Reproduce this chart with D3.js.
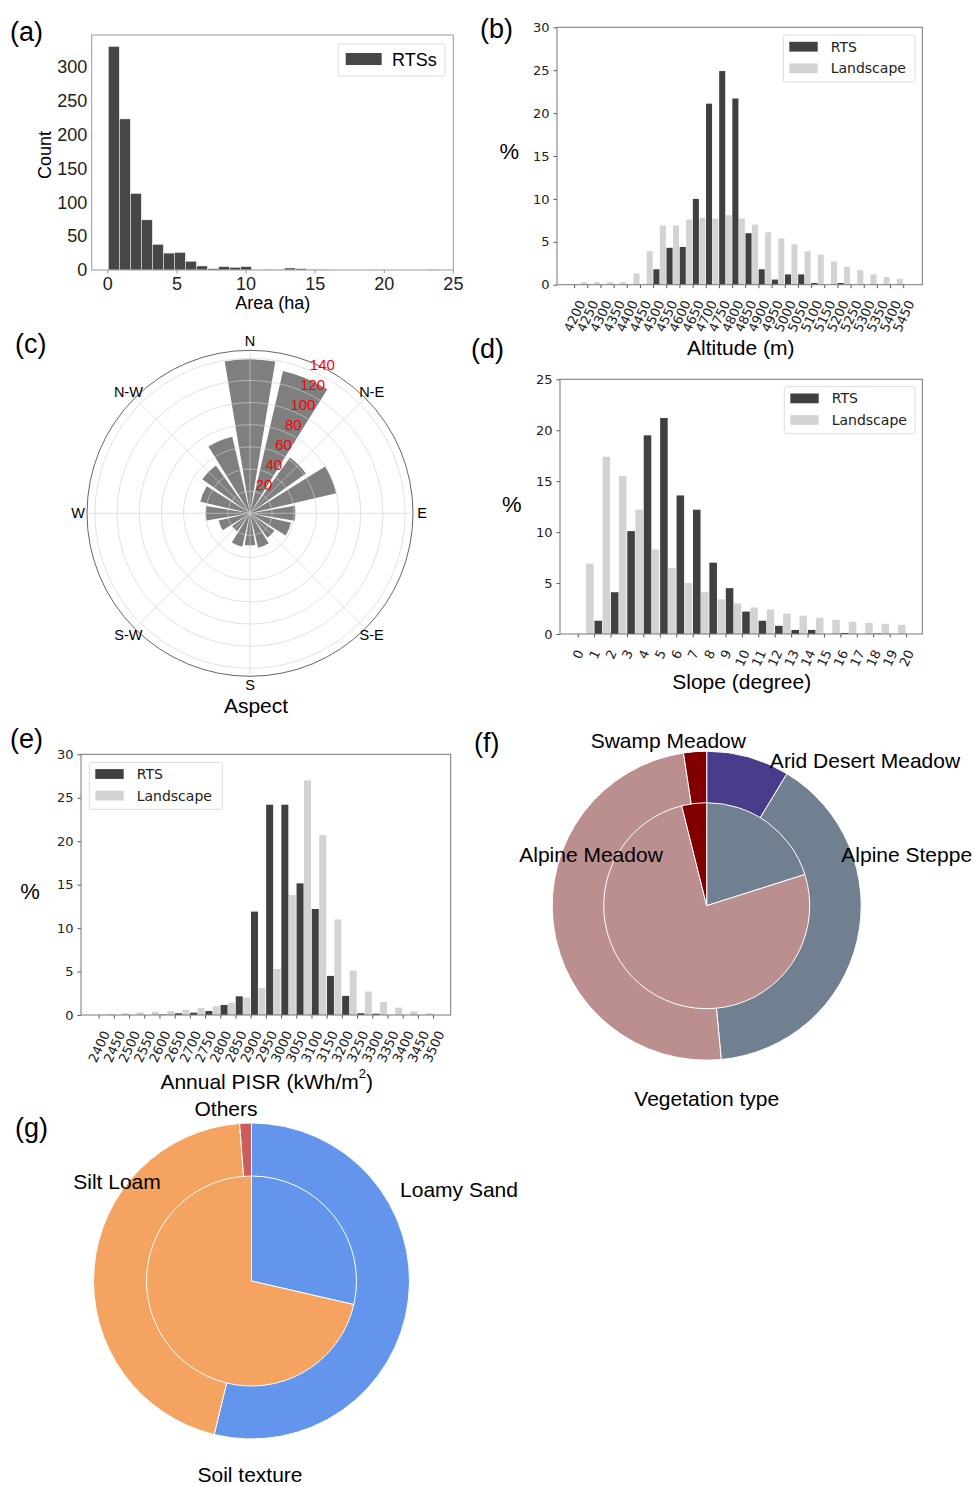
<!DOCTYPE html>
<html>
<head>
<meta charset="utf-8">
<title>RTS characteristics</title>
<script src="https://d3js.org/d3.v7.min.js"></script>
<style>
  body { margin:0; background:#fff; }
  svg { display:block; font-family:"Liberation Sans", Arial, sans-serif; }
</style>
</head>
<body>
<script>

// ---- data ----

// (a) area histogram, 30 bins
var areaBinLo = 0.07, areaBinStep = 0.797;
var areaCounts = [330, 223, 113, 74, 38, 25, 26, 13, 6, 2, 5, 4, 5, 0, 1, 1, 3, 2, 1, 1, 0, 0, 0, 0, 0, 0, 0, 0, 0, 1];

// (b) altitude
var altLabels = d3.range(4200, 5451, 50);
var altLand = [0, 0.3, 0.3, 0.3, 0.3, 1.3, 3.9, 6.9, 6.9, 7.6, 7.8, 7.7, 8.1, 7.7, 7.0, 6.1, 5.4, 4.7, 3.9, 3.5, 2.7, 2.1, 1.7, 1.2, 0.9, 0.7];
var altRTS  = [0, 0, 0, 0, 0, 0, 1.8, 4.3, 4.4, 10.0, 21.1, 24.9, 21.7, 6.0, 1.8, 0.6, 1.2, 1.2, 0.2, 0, 0.2, 0, 0, 0, 0, 0];

// (c) aspect, 16 sectors clockwise from N
var aspectCounts = [139, 132, 62, 80, 41, 38, 27, 32, 29, 31, 20, 29, 40, 46, 53, 71];
var aspectRings = [20, 40, 60, 80, 100, 120, 140];
var compassLabels = ["N", "N-E", "E", "S-E", "S", "S-W", "W", "N-W"];

// (d) slope
var slopeLabels = d3.range(0, 21);
var slopeLand = [0, 6.9, 17.4, 15.5, 12.2, 8.3, 6.5, 5.0, 4.1, 3.4, 3.0, 2.6, 2.4, 2.0, 1.8, 1.6, 1.4, 1.2, 1.1, 1.0, 0.9];
var slopeRTS  = [0, 1.3, 4.1, 10.1, 19.5, 21.2, 13.6, 12.2, 7.0, 4.5, 2.2, 1.3, 0.8, 0.4, 0.4, 0, 0.1, 0, 0.05, 0, 0];

// (e) annual PISR
var pisrLabels = d3.range(2400, 3501, 50);
var pisrLand = [0, 0.1, 0.2, 0.3, 0.35, 0.45, 0.6, 0.8, 1.0, 1.4, 2.0, 3.1, 5.3, 13.8, 27.0, 20.7, 11.0, 5.1, 2.7, 1.5, 0.85, 0.42, 0.2];
var pisrRTS  = [0, 0, 0, 0, 0.05, 0.2, 0.27, 0.46, 1.15, 2.15, 11.9, 24.2, 24.2, 15.15, 12.2, 4.5, 2.2, 0.2, 0.15, 0, 0, 0, 0];

// (f) vegetation type (%), outer ring and inner pie
var vegNames  = ["Arid Desert Meadow", "Alpine Steppe", "Alpine Meadow", "Swamp Meadow"];
var vegOuter  = [8.7, 39.8, 49.1, 2.4];
var vegInner  = [0, 20.1, 76.0, 3.9];
var vegColors = ["#483d8b", "#708090", "#bc8f8f", "#800000"];

// (g) soil texture (%)
var soilNames  = ["Loamy Sand", "Silt Loam", "Others"];
var soilOuter  = [53.8, 45.0, 1.2];
var soilInner  = [28.6, 71.4, 0];
var soilColors = ["#6495ed", "#f4a460", "#cd5c5c"];

// ---- drawing ----
var DARK = "#404040", LIGHT = "#d3d3d3", MPL = "DejaVu Sans, sans-serif";
var ROT = 65;  // x tick label rotation

var svg = d3.select("body").append("svg")
    .attr("width", 975)
    .attr("height", 1486);

function panelLetter(txt, x, y) {
  svg.append("text").attr("x", x).attr("y", y)
      .attr("dominant-baseline", "central")
      .style("font-size", "27px").text(txt);
}

function styleAxis(ax, font, fs, color) {
  ax.select(".domain").remove();
  ax.attr("font-family", font).attr("font-size", fs);
  ax.selectAll(".tick line").attr("stroke", color);
  ax.selectAll(".tick text").attr("fill", "#222");
}

// (a) histogram
(function() {
  var box = {left: 91.7, right: 453.3, top: 35, bottom: 270};
  var x = d3.scaleLinear().domain([-1.13, 25.03]).range([box.left, box.right]);
  var y = d3.scaleLinear().domain([0, 346.8]).range([box.bottom, box.top]);
  var g = svg.append("g");

  g.selectAll("rect.bar").data(areaCounts).join("rect")
      .attr("class", "bar")
      .attr("x", function(d, i) { return x(areaBinLo + i * areaBinStep); })
      .attr("width", x(areaBinStep) - x(0))
      .attr("y", function(d) { return y(d); })
      .attr("height", function(d) { return y(0) - y(d); })
      .attr("fill", "#474747")
      .attr("stroke", "#fff").attr("stroke-width", 0.5);

  var ax = g.append("g").attr("transform", "translate(0," + box.bottom + ")")
      .call(d3.axisBottom(x).tickValues([0, 5, 10, 15, 20, 25]).tickSize(3.5).tickPadding(3.5));
  styleAxis(ax, "Liberation Sans, Arial, sans-serif", 18, "#999");
  var ay = g.append("g").attr("transform", "translate(" + box.left + ",0)")
      .call(d3.axisLeft(y).tickValues([0, 50, 100, 150, 200, 250, 300]).tickSize(0).tickPadding(4.5));
  styleAxis(ay, "Liberation Sans, Arial, sans-serif", 18, "#999");

  g.append("rect").attr("x", box.left).attr("y", box.top)
      .attr("width", box.right - box.left).attr("height", box.bottom - box.top)
      .attr("fill", "none").attr("stroke", "#999");

  // legend
  g.append("rect").attr("x", 338).attr("y", 44).attr("width", 107).attr("height", 32).attr("rx", 2)
      .attr("fill", "#fff").attr("stroke", "#ddd");
  g.append("rect").attr("x", 345.7).attr("y", 53).attr("width", 36).attr("height", 12).attr("fill", "#474747");
  g.append("text").attr("x", 392).attr("y", 60).attr("dominant-baseline", "central")
      .style("font-size", "18px").text("RTSs");

  g.append("text").attr("x", 272.7).attr("y", 303).attr("text-anchor", "middle")
      .attr("dominant-baseline", "central").style("font-size", "18px").text("Area (ha)");
  g.append("text").attr("transform", "translate(45,155) rotate(-90)").attr("text-anchor", "middle")
      .attr("dominant-baseline", "central").style("font-size", "18px").text("Count");
})();

// grouped bar panels (b), (d), (e)
function barPanel(p) {
  var g = svg.append("g");
  var x = d3.scaleLinear().domain(p.xDomain).range([p.left, p.right]);
  var y = d3.scaleLinear().domain([0, p.yMax]).range([p.bottom, p.top]);

  g.selectAll("rect.land").data(p.land).join("rect")
      .attr("class", "land")
      .attr("x", function(d, i) { return x(i - 0.49); })
      .attr("width", x(0.46) - x(0))
      .attr("y", function(d) { return y(d); })
      .attr("height", function(d) { return y(0) - y(d); })
      .attr("fill", LIGHT);
  g.selectAll("rect.rts").data(p.rts).join("rect")
      .attr("class", "rts")
      .attr("x", function(d, i) { return x(i + 0.02); })
      .attr("width", x(0.46) - x(0))
      .attr("y", function(d) { return y(d); })
      .attr("height", function(d) { return y(0) - y(d); })
      .attr("fill", DARK);

  var ax = g.append("g").attr("transform", "translate(0," + p.bottom + ")")
      .call(d3.axisBottom(x).tickValues(d3.range(p.labels.length))
        .tickFormat(function(i) { return p.labels[i]; }).tickSize(3.5));
  styleAxis(ax, MPL, 13, "#555");
  ax.selectAll(".tick text").each(function() {
    var len = this.getComputedTextLength();
    var a = ROT * Math.PI / 180;
    var h = len * Math.sin(a) + 0.73 * 13 * Math.cos(a);
    d3.select(this).attr("y", 0).attr("dy", null)
        .attr("text-anchor", "middle").attr("dominant-baseline", "central")
        .attr("transform", "translate(0," + (3.5 + 11 + h / 2) + ") rotate(" + (-ROT) + ")");
  });

  var ay = g.append("g").attr("transform", "translate(" + p.left + ",0)")
      .call(d3.axisLeft(y).tickValues(d3.range(0, p.yMax + 1, 5)).tickSize(3.5).tickPadding(4));
  styleAxis(ay, MPL, 13, "#555");

  g.append("rect").attr("x", p.left).attr("y", p.top)
      .attr("width", p.right - p.left).attr("height", p.bottom - p.top)
      .attr("fill", "none").attr("stroke", "#777");

  // legend
  var L = p.legend;
  g.append("rect").attr("x", L.x).attr("y", L.y).attr("width", L.w).attr("height", 47).attr("rx", 2)
      .attr("fill", "#fff").attr("fill-opacity", 0.85).attr("stroke", "#ddd");
  [["RTS", DARK], ["Landscape", LIGHT]].forEach(function(e, k) {
    var cy = L.y + 11.7 + k * 21.6;
    g.append("rect").attr("x", L.x + 6).attr("y", cy - 4.9).attr("width", 28.4).attr("height", 9.8).attr("fill", e[1]);
    g.append("text").attr("x", L.x + 47.4).attr("y", cy).attr("dominant-baseline", "central")
        .attr("font-family", MPL).style("font-size", "14px").attr("fill", "#222").text(e[0]);
  });

  g.append("text").attr("x", p.pct[0]).attr("y", p.pct[1]).attr("text-anchor", "middle")
      .attr("dominant-baseline", "central").style("font-size", "22px").text("%");
  var t = g.append("text").attr("x", p.title[0]).attr("y", p.title[1]).attr("text-anchor", "middle")
      .attr("dominant-baseline", "central").style("font-size", "21px").text(p.titleText);
  if (p.titleSup) {
    t.append("tspan").attr("baseline-shift", "super").style("font-size", "13px").text(p.titleSup);
    t.append("tspan").text(")");
  }
}

barPanel({
  left: 557, right: 922.3, top: 27.3, bottom: 284.7, xDomain: [-1.3, 26.45], yMax: 30,
  labels: altLabels, land: altLand, rts: altRTS,
  legend: {x: 783.3, y: 35, w: 131.7},
  pct: [509.3, 151.7], title: [740.7, 347.7], titleText: "Altitude (m)"
});

barPanel({
  left: 560, right: 922.3, top: 379.3, bottom: 634, xDomain: [-1.08, 20.99], yMax: 25,
  labels: slopeLabels, land: slopeLand, rts: slopeRTS,
  legend: {x: 784.3, y: 386.7, w: 130.7},
  pct: [511.7, 504], title: [741.7, 681.7], titleText: "Slope (degree)"
});

barPanel({
  left: 81, right: 450.7, top: 754.3, bottom: 1015, xDomain: [-1.16, 23.16], yMax: 30,
  labels: pisrLabels, land: pisrLand, rts: pisrRTS,
  legend: {x: 89.3, y: 762.3, w: 133},
  pct: [30, 891.7], title: [266.7, 1081], titleText: "Annual PISR (kWh/m", titleSup: "2"
});

// (c) aspect rose
(function() {
  var g = svg.append("g").attr("transform", "translate(250,513.3)");
  var r = d3.scaleLinear().domain([0, 20]).range([0, 22.15]);
  var outerR = 163;
  var step = 2 * Math.PI / aspectCounts.length;
  var arc = d3.arc().innerRadius(0);

  g.selectAll("path.wedge").data(aspectCounts).join("path")
      .attr("class", "wedge")
      .attr("d", function(d, i) {
        return arc({outerRadius: r(d), startAngle: i * step - step * 0.42, endAngle: i * step + step * 0.42});
      })
      .attr("fill", "#7f7f7f");

  g.selectAll("circle.ring").data(aspectRings).join("circle")
      .attr("class", "ring").attr("r", function(d) { return r(d); })
      .attr("fill", "none").attr("stroke", "#cfcfcf").attr("stroke-opacity", 0.8).attr("stroke-width", 0.8);
  g.selectAll("line.spoke").data(compassLabels).join("line")
      .attr("class", "spoke")
      .attr("x2", function(d, i) { return outerR * Math.sin(i * Math.PI / 4); })
      .attr("y2", function(d, i) { return -outerR * Math.cos(i * Math.PI / 4); })
      .attr("stroke", "#cfcfcf").attr("stroke-opacity", 0.8).attr("stroke-width", 0.8);
  g.append("circle").attr("r", outerR).attr("fill", "none").attr("stroke", "#666").attr("stroke-width", 1);

  g.selectAll("text.comp").data(compassLabels).join("text")
      .attr("class", "comp")
      .attr("x", function(d, i) { return 172 * Math.sin(i * Math.PI / 4); })
      .attr("y", function(d, i) { return -172 * Math.cos(i * Math.PI / 4); })
      .attr("text-anchor", "middle").attr("dominant-baseline", "central")
      .style("font-size", "14.5px").text(function(d) { return d; });

  var la = 26 * Math.PI / 180;
  g.selectAll("text.rlab").data(aspectRings).join("text")
      .attr("class", "rlab")
      .attr("x", function(d) { return (r(d) + 10) * Math.sin(la); })
      .attr("y", function(d) { return -(r(d) + 10) * Math.cos(la); })
      .attr("text-anchor", "middle").attr("dominant-baseline", "central")
      .attr("fill", "#ff0000").style("font-size", "15px").text(function(d) { return d; });

  svg.append("text").attr("x", 256).attr("y", 705).attr("text-anchor", "middle")
      .attr("dominant-baseline", "central").style("font-size", "21px").text("Aspect");
})();

// nested pies (f), (g)
function nestedPie(cx, cy, rIn, rOut, outerVals, innerVals, colors, labels) {
  var g = svg.append("g").attr("transform", "translate(" + cx + "," + cy + ")");
  var pie = d3.pie().sort(null);
  var outerArc = d3.arc().innerRadius(0).outerRadius(rOut);
  var innerArc = d3.arc().innerRadius(0).outerRadius(rIn);

  g.selectAll("path.outer").data(pie(outerVals).filter(function(d) { return d.value > 0; })).join("path")
      .attr("class", "outer").attr("d", outerArc)
      .attr("fill", function(d) { return colors[d.index]; })
      .attr("stroke", "#fff").attr("stroke-width", 1);
  g.selectAll("path.inner").data(pie(innerVals).filter(function(d) { return d.value > 0; })).join("path")
      .attr("class", "inner").attr("d", innerArc)
      .attr("fill", function(d) { return colors[d.index]; })
      .attr("stroke", "#fff").attr("stroke-width", 1);

  labels.forEach(function(l) {
    g.append("text").attr("x", l[1]).attr("y", l[2]).attr("text-anchor", "middle")
        .attr("dominant-baseline", "central").style("font-size", "21px").text(l[0]);
  });
}

nestedPie(706.7, 905.7, 103, 154.5, vegOuter, vegInner, vegColors, [
  [vegNames[3], -38.4, -165],
  [vegNames[0], 158.3, -145.7],
  [vegNames[2], -115.7, -51.7],
  [vegNames[1], 200, -51.7],
  ["Vegetation type", 0, 192.6]
]);

nestedPie(251.5, 1281, 105, 158, soilOuter, soilInner, soilColors, [
  [soilNames[2], -25.5, -173],
  [soilNames[1], -134.5, -100],
  [soilNames[0], 207.5, -92],
  ["Soil texture", -1.5, 193]
]);

panelLetter("(a)", 10, 31.5);
panelLetter("(b)", 480, 29);
panelLetter("(c)", 15, 344);
panelLetter("(d)", 471, 349);
panelLetter("(e)", 10, 739);
panelLetter("(f)", 474, 743);
panelLetter("(g)", 15, 1128);

</script>
</body>
</html>
